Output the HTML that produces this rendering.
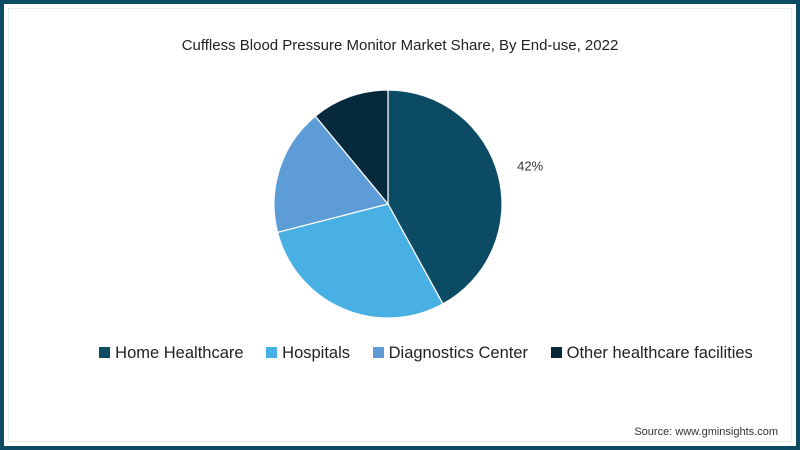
<!DOCTYPE html>
<html><head><meta charset="utf-8"><style>
html,body{margin:0;padding:0;}
body{width:800px;height:450px;overflow:hidden;background:#fff;font-family:"Liberation Sans",sans-serif;}
.frame{position:absolute;left:0;top:0;width:800px;height:450px;box-sizing:border-box;border:4px solid #0d4a63;}
.inner{position:absolute;left:4px;top:4px;right:4px;bottom:4px;border:1px solid #e3eef3;}
.title{position:absolute;left:0;width:800px;top:37px;text-align:center;font-size:15px;color:#222;}
.legend{position:absolute;top:344px;left:26px;width:800px;text-align:center;font-size:16.5px;color:#222;white-space:nowrap;}
.le{display:inline-block;margin:0 9px;}
.sw{display:inline-block;width:11px;height:11px;margin-right:5px;vertical-align:0px;}
.src{position:absolute;right:22px;top:426px;font-size:11px;color:#333;}
</style></head><body>
<div class="frame"><div class="inner"></div></div>
<div class="title">Cuffless Blood Pressure Monitor Market Share, By End-use, 2022</div>
<svg id="pie" width="800" height="450" style="position:absolute;left:0;top:0"></svg>
<div class="legend">
<span class="le"><span class="sw" style="background:#0b4b63"></span>Home Healthcare</span>
<span class="le"><span class="sw" style="background:#48b0e2"></span>Hospitals</span>
<span class="le"><span class="sw" style="background:#5d9cd6"></span>Diagnostics Center</span>
<span class="le"><span class="sw" style="background:#06293b"></span>Other healthcare facilities</span>
</div>
<div class="src">Source: www.gminsights.com</div>
<script>
const categories=["Home Healthcare","Hospitals","Diagnostics Center","Other healthcare facilities"];
const shares=[42,29,18,11];
const colors=["#0b4b63","#48b0e2","#5d9cd6","#06293b"];
const labelShown=[true,false,false,false];
const svg=document.getElementById('pie');
const NS='http://www.w3.org/2000/svg';
const cx=388,cy=204,r=114;
const total=shares.reduce((a,b)=>a+b,0);
function pt(frac,rad){const a=frac*2*Math.PI;return [cx+rad*Math.sin(a),cy-rad*Math.cos(a)];}
let acc=0;
shares.forEach((v,i)=>{
  const s=acc/total,e=(acc+v)/total;acc+=v;
  const p0=pt(s,r),p1=pt(e,r);
  const large=(e-s)>0.5?1:0;
  const path=document.createElementNS(NS,'path');
  path.setAttribute('d',`M${cx},${cy} L${p0[0]},${p0[1]} A${r},${r} 0 ${large} 1 ${p1[0]},${p1[1]} Z`);
  path.setAttribute('fill',colors[i]);
  path.setAttribute('stroke','#fff');
  path.setAttribute('stroke-width','1.2');
  
  
  svg.appendChild(path);
  if(labelShown[i]){
    const m=pt((s+e)/2,r+40);
    const t=document.createElementNS(NS,'text');
    t.setAttribute('x',m[0]-7);t.setAttribute('y',m[1]+5);
    t.setAttribute('font-size','13');t.setAttribute('fill','#333');
    t.setAttribute('font-family','Liberation Sans, sans-serif');
    t.setAttribute('text-anchor','middle');
    t.textContent=v+'%';
    
    
    svg.appendChild(t);
  }
});
</script>
</body></html>
